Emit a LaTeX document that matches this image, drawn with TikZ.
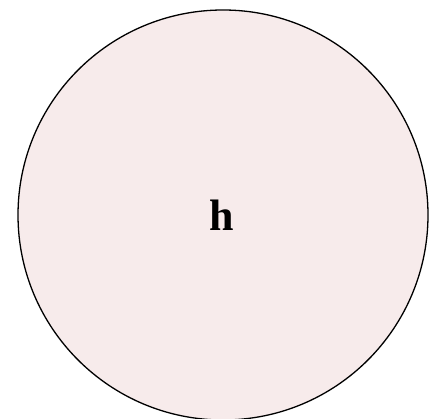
\documentclass[tikz,border=0pt]{standalone}
\usepackage{fontspec}
\setmainfont{Liberation Serif}
\definecolor{cellfill}{RGB}{247,235,235}
\tikzset{cell/.style={circle,draw=black,line width=1.3pt,fill=cellfill,minimum size=410pt,inner sep=0pt}}
\begin{document}
\begin{tikzpicture}[x=1pt,y=1pt]
\useasboundingbox (0,0) rectangle (439,419);
\clip (0,0) rectangle (439,419);
\node[cell] (c) at (223,204) {};
\node[font=\fontsize{44}{50}\selectfont\bfseries,anchor=base,inner sep=0pt] (h) at (221.5,188) {h};
\end{tikzpicture}
\end{document}
